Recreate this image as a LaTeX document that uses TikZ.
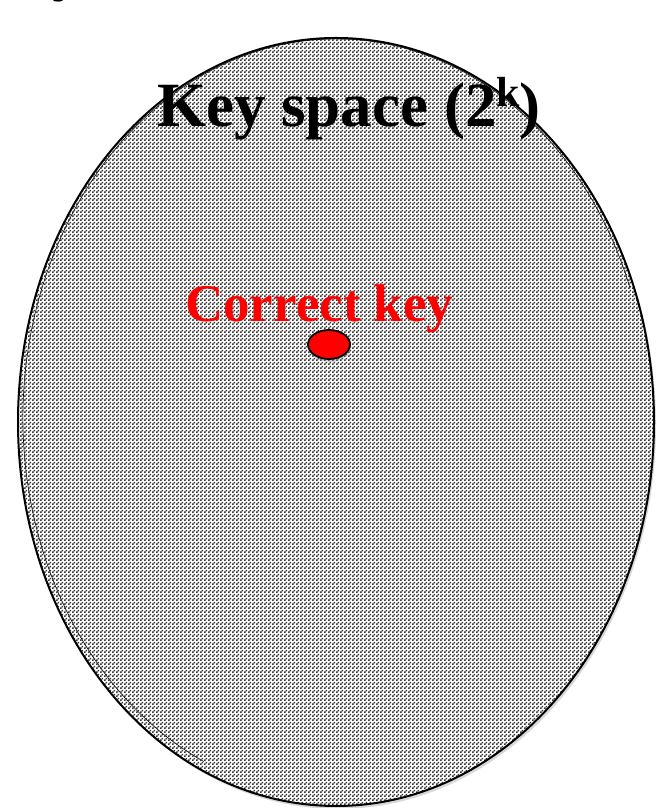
\documentclass[tikz,border=0pt]{standalone}
\usepackage{fontspec}
\setmainfont{Liberation Serif}
\usetikzlibrary{patterns,shadows,calc}
% checkerboard fill of the key space
\pgfdeclarepatternformonly{checker}{\pgfpointorigin}{\pgfqpoint{4pt}{4pt}}{\pgfqpoint{4pt}{4pt}}{%
  \pgfpathrectangle{\pgfpointorigin}{\pgfqpoint{2pt}{2pt}}%
  \pgfpathrectangle{\pgfqpoint{2pt}{2pt}}{\pgfqpoint{2pt}{2pt}}%
  \pgfusepath{fill}}
\tikzset{
  keyshadow/.style={drop shadow={shadow xshift=2pt, shadow yshift=-3pt, opacity=0.3}},
  bigtext/.style={inner sep=0pt, anchor=base west, font=\bfseries\fontsize{63}{63}\selectfont},
}
\begin{document}
\begin{tikzpicture}[x=1pt,y=1pt]
    % frame
    \path[use as bounding box](0,0)rectangle(656,808);
    % text cut off at the top
    \node[bigtext](cut)at(52,819){y};
    % key space
    \coordinate(C)at(336,386);
    \coordinate(C2)at(336,390);
    \path[fill=white, keyshadow](C)ellipse[x radius=318, y radius=384];
    \path[draw, line width=0.6pt]($(C2)+(20:313 and 379)$)arc[start angle=20, end angle=245, x radius=313, y radius=379];
    \path[pattern=checker, pattern color=black!80](C)ellipse[x radius=318, y radius=384];
    \path[draw, line width=2pt](C)ellipse[x radius=318, y radius=384];
    % labels
    \node[bigtext](title)at(157,681){Key space (2\raisebox{20pt}{\fontsize{42}{42}\selectfont k})};
    \node[bigtext, red, font=\bfseries\fontsize{53}{53}\selectfont](correct)at(185,486){Correct key};
    % correct key
    \path[draw, fill=red, line width=1.8pt, drop shadow={shadow xshift=1pt, shadow yshift=-3pt, opacity=0.3}](329,463.5)ellipse[x radius=21, y radius=14.5];
\end{tikzpicture}
\end{document}
